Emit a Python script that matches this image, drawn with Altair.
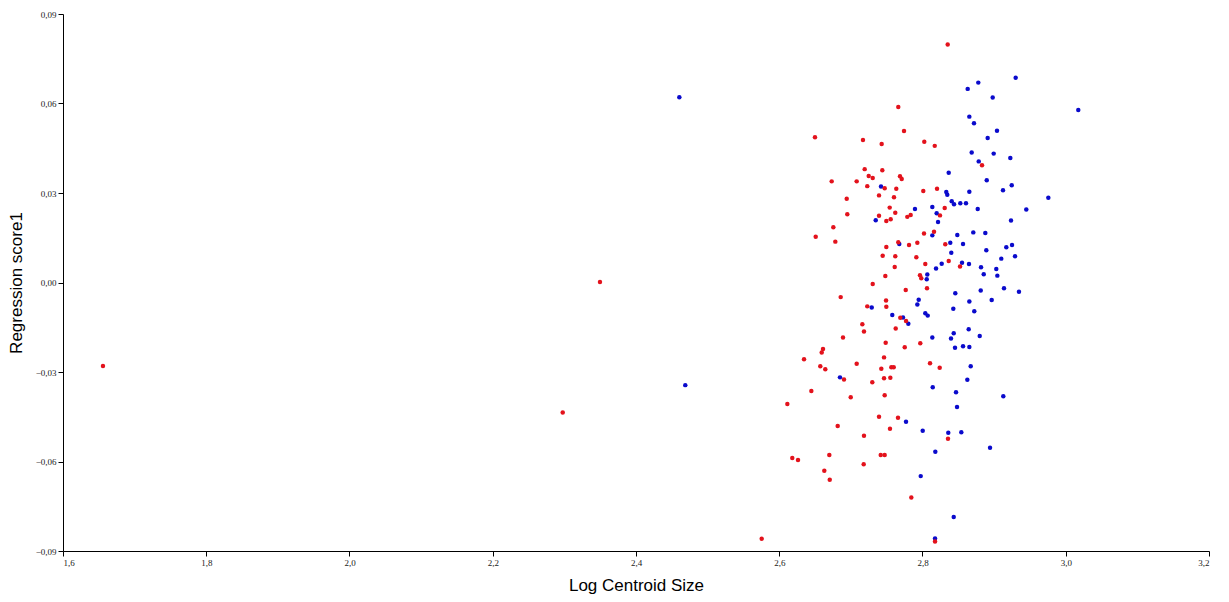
import altair as alt
import pandas as pd

red_x = [2.7662, 2.7742, 2.6499, 2.7169, 2.7430, 2.7193, 2.7439, 2.7249, 2.7305, 2.7686, 2.7710, 2.6732, 2.7081, 2.7229, 2.7472, 2.7634, 2.7393, 2.7602, 2.6942, 2.7542,
         2.8352, 2.8025, 2.8171, 2.8831, 2.8011, 2.8203, 2.8310,
         2.8244, 2.8021, 2.8161, 2.7928, 2.8318, 2.7914, 2.8366, 2.8039, 2.8524, 2.7965, 2.7983, 2.8063, 2.7969, 2.8105, 2.8240,
         2.8356, 2.8175,
         2.6950, 2.7393, 2.7495, 2.7556, 2.7620, 2.7788, 2.7835, 2.6755, 2.6509, 2.6783, 2.7495, 2.7662, 2.7812, 2.7444, 2.7620, 2.7612, 2.7481, 2.7305, 2.7766, 2.6858,
         2.7491, 2.7229, 2.7495, 2.7690, 2.7770, 2.7160, 2.7183, 2.7626, 2.6890, 2.7486, 2.7752, 2.6611, 2.6593, 2.6346, 2.7463, 2.7081, 2.6573, 2.6643, 2.7425, 2.7565,
         2.7598, 2.6904, 2.7463, 2.7551, 2.7299,
         2.6448, 2.6113, 2.6998, 2.7472, 2.7393, 2.7658, 2.7546, 2.6816, 2.7183, 2.6182, 2.6262, 2.6699, 2.7417, 2.7472, 2.7179, 2.6629, 2.6705, 2.7844, 2.5755,
         1.6558, 2.3497, 2.2977]
red_y = [0.0588, 0.0508, 0.0487, 0.0478, 0.0464, 0.0380, 0.0376, 0.0357, 0.0350, 0.0356, 0.0347, 0.0339, 0.0339, 0.0323, 0.0316, 0.0314, 0.0292, 0.0286, 0.0281, 0.0251,
         0.0798, 0.0472, 0.0458, 0.0393, 0.0307, 0.0314, 0.0250,
         0.0225, 0.0164, 0.0170, 0.0133, 0.0128, 0.0085, 0.0072, 0.0062, 0.0054, 0.0024, 0.0014, -0.0019, -0.0204, -0.0271, -0.0286,
         -0.0524, -0.0868,
         0.0229, 0.0224, 0.0206, 0.0212, 0.0234, 0.0220, 0.0226, 0.0185, 0.0153, 0.0137, 0.0119, 0.0135, 0.0126, 0.0090, 0.0088, 0.0052, 0.0022, -0.0005, -0.0025, -0.0049,
         -0.0060, -0.0080, -0.0081, -0.0118, -0.0129, -0.0140, -0.0164, -0.0154, -0.0184, -0.0202, -0.0217, -0.0223, -0.0235, -0.0257, -0.0251, -0.0272, -0.0281, -0.0291, -0.0289, -0.0284,
         -0.0284, -0.0325, -0.0321, -0.0319, -0.0334,
         -0.0364, -0.0407, -0.0385, -0.0378, -0.0450, -0.0453, -0.0490, -0.0481, -0.0514, -0.0588, -0.0595, -0.0578, -0.0578, -0.0578, -0.0609, -0.0631, -0.0661, -0.0721, -0.0859,
         -0.0280, 0.0002, -0.0436]

blue_x = [2.7421,
          2.9301, 2.8779, 2.8631, 2.8980, 3.0175, 2.8654, 2.8719, 2.9040, 2.8910, 2.8687, 2.8994, 2.9226, 2.8785, 2.8366, 2.8897, 2.9246, 2.9124, 2.8332, 2.8346, 2.8654,
          2.9757, 2.8408, 2.8440, 2.8528, 2.8607, 2.8137, 2.7895, 2.8771, 2.9449,
          2.8198, 2.8217, 2.9236, 2.8137, 2.8486, 2.8709, 2.8877, 2.8388, 2.8566, 2.9170, 2.9250, 2.8891, 2.8402, 2.9292, 2.9100, 2.8552, 2.8649, 2.8268, 2.8189, 2.8817,
          2.9030, 2.8855, 2.9045, 2.8067, 2.8059, 2.9138, 2.9347, 2.8813, 2.8458, 2.7947, 2.8966, 2.8654, 2.7928, 2.8430, 2.8723, 2.8039, 2.8073, 2.8645, 2.8137, 2.8436,
          2.8398, 2.8799, 2.8454, 2.8566, 2.8654, 2.8673, 2.8626,
          2.8143, 2.8468, 2.9128, 2.8482, 2.8003, 2.8360, 2.8542, 2.8179, 2.8943, 2.7975, 2.8436, 2.8175,
          2.7347, 2.7676, 2.7291, 2.7578, 2.7728, 2.7802, 2.6848,
          2.7770,
          2.4605, 2.4688]
blue_y = [0.0322,
          0.0686, 0.0670, 0.0649, 0.0620, 0.0578, 0.0556, 0.0534, 0.0509, 0.0484, 0.0436, 0.0432, 0.0417, 0.0406, 0.0368, 0.0343, 0.0326, 0.0309, 0.0303, 0.0294, 0.0304,
          0.0284, 0.0272, 0.0262, 0.0266, 0.0266, 0.0253, 0.0246, 0.0246, 0.0245,
          0.0232, 0.0203, 0.0208, 0.0158, 0.0159, 0.0168, 0.0166, 0.0133, 0.0129, 0.0118, 0.0126, 0.0108, 0.0100, 0.0088, 0.0080, 0.0066, 0.0062, 0.0063, 0.0047, 0.0051,
          0.0045, 0.0028, 0.0023, 0.0027, 0.0011, -0.0019, -0.0031, -0.0027, -0.0036, -0.0058, -0.0059, -0.0064, -0.0074, -0.0088, -0.0096, -0.0103, -0.0111, -0.0157, -0.0184, -0.0170,
          -0.0188, -0.0179, -0.0219, -0.0214, -0.0216, -0.0281, -0.0326,
          -0.0351, -0.0368, -0.0381, -0.0417, -0.0497, -0.0504, -0.0502, -0.0567, -0.0554, -0.0649, -0.0786, -0.0858,
          0.0209, 0.0129, -0.0084, -0.0109, -0.0117, -0.0138, -0.0318,
          -0.0467,
          0.0621, -0.0344]

x_ticks = [1.6, 1.8, 2.0, 2.2, 2.4, 2.6, 2.8, 3.0, 3.2]
y_ticks = [-0.09, -0.06, -0.03, 0.0, 0.03, 0.06, 0.09]

df = pd.concat([
    pd.DataFrame({"x": blue_x, "y": blue_y, "group": "B"}),
    pd.DataFrame({"x": red_x, "y": red_y, "group": "A"}),
], ignore_index=True)

chart = alt.Chart(df).mark_circle(size=20, opacity=1).encode(
    x=alt.X("x:Q", title="Log Centroid Size",
            scale=alt.Scale(domain=[1.6, 3.2], nice=False, zero=False),
            axis=alt.Axis(values=x_ticks, labelExpr="replace(format(datum.value, '.1f'), '.', ',')",
                          titlePadding=10)),
    y=alt.Y("y:Q", title="Regression score1",
            scale=alt.Scale(domain=[-0.09, 0.09], nice=False, zero=False),
            axis=alt.Axis(values=y_ticks, labelExpr="replace(format(datum.value, '.2f'), '.', ',')",
                          titlePadding=10)),
    color=alt.Color("group:N", scale=alt.Scale(domain=["A", "B"], range=["#E3121C", "#0A0ACC"]), legend=None),
).properties(
    width=1146, height=537,
    autosize=alt.AutoSizeParams(type="none"),
    padding={"left": 55, "top": 6, "right": 12, "bottom": 45},
).configure_view(stroke=None).configure_axis(
    grid=False, domainColor="#000", tickColor="#000", tickSize=5,
    labelFont="Liberation Sans Narrow", labelFontSize=9, labelColor="#222",
    titleFont="Liberation Sans", titleFontSize=17, titleFontWeight="normal", titleColor="#000",
)

chart.save("out.html", embed_options={"renderer": "svg", "actions": False})
